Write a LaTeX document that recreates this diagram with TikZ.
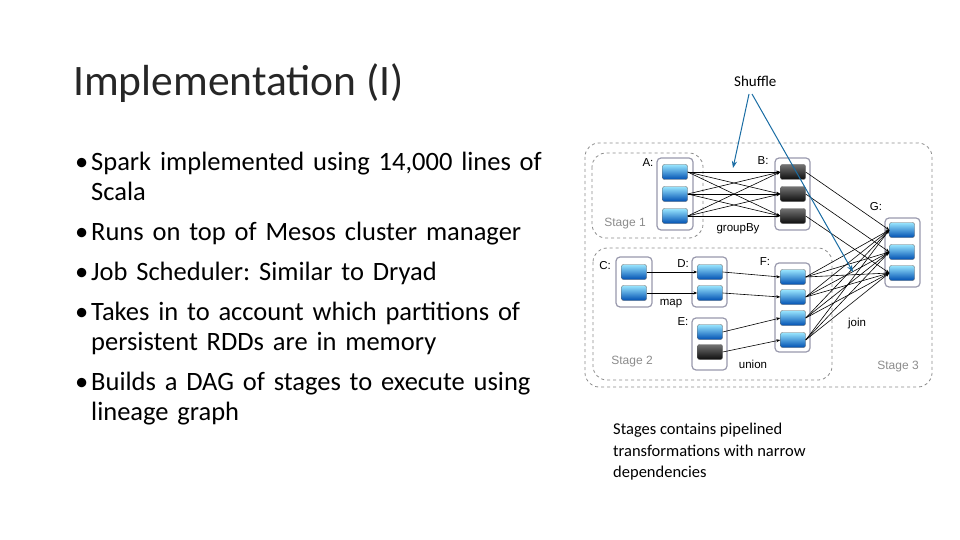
\documentclass[tikz,border=0pt]{standalone}
\usepackage{fontspec}
\setmainfont{Carlito}
\newfontfamily\arialf{Liberation Sans}
\usetikzlibrary{arrows.meta}
\begin{document}
\frenchspacing
\begin{tikzpicture}[x=1pt,y=-1pt,
  part/.style={draw=black!60,line width=0.4pt,rounded corners=2pt,minimum width=25pt,minimum height=15pt,inner sep=0pt,top color=blue!25!cyan!40,bottom color=blue!55!cyan!70!black},
  dark/.style={part,top color=black!55,bottom color=black!95},
  grp/.style={draw=blue!20!black!40,line width=1.2pt,rounded corners=4pt,fill=white},
  stage/.style={draw=black!45,dashed,line width=0.8pt,rounded corners=14pt},
  lab/.style={font=\arialf\fontsize{11.5}{14}\selectfont,inner sep=0pt},
  slab/.style={font=\arialf\fontsize{12}{14}\selectfont,text=black!45,inner sep=0pt},
  e/.style={-{Stealth[length=4pt]},line width=0.6pt},
  sh/.style={-{Stealth[length=7pt]},draw=blue!40!cyan!60!black!90,line width=1pt}]
\useasboundingbox (0,0) rectangle (960,540);
% text
\node[anchor=base west,inner sep=0pt,text=black!85,font=\fontsize{43.5}{48}\selectfont] (title) at (73,96) {Implementation (I)};
\node[anchor=north west,inner sep=0pt,text width=490pt,font=\fontsize{26.5}{30}\selectfont\frenchspacing,align=left] (bul) at (75,152) {%
\makebox[16pt][l]{•}Spark implemented using 14,000 lines of\\\hspace*{16pt}Scala\\[10pt]
\makebox[16pt][l]{•}Runs on top of Mesos cluster manager\\[10pt]
\makebox[16pt][l]{•}Job Scheduler: Similar to Dryad\\[10pt]
\makebox[16pt][l]{•}Takes in to account which partitions of\\\hspace*{16pt}persistent RDDs are in memory\\[10pt]
\makebox[16pt][l]{•}Builds a DAG of stages to execute using\\\hspace*{16pt}lineage graph};
\node[anchor=north west,inner sep=0pt,align=left,font=\fontsize{16.5}{21.5}\selectfont] (cap) at (613,423) {Stages contains pipelined\\transformations with narrow\\dependencies};
\node[anchor=base west,inner sep=0pt,font=\fontsize{15}{18}\selectfont] (shuf) at (734,87) {Shuffle};
% stages
\draw[stage] (585,143) rectangle (932,387);
\draw[stage,fill=white] (592,153) rectangle (703,238);
\draw[stage,fill=white] (593,248) rectangle (832,380);
% groups
\draw[grp] (657,158) rectangle (693,230);
\draw[grp] (775,158) rectangle (810,230);
\draw[grp] (885,218) rectangle (920,287);
\draw[grp] (616,257) rectangle (652,307);
\draw[grp] (692,257) rectangle (727,307);
\draw[grp] (692,318) rectangle (727,370);
\draw[grp] (775,263) rectangle (810,352);
\foreach \i/\y in {1/172,2/194,3/216}{
  \node[part] (A\i) at (675,\y) {};
  \node[dark] (B\i) at (793,\y) {};}
\foreach \i/\y in {1/230,2/252,3/273} \node[part] (G\i) at (902,\y) {};
\foreach \i/\y in {1/272,2/293}{
  \node[part] (C\i) at (634,\y) {};
  \node[part] (D\i) at (710,\y) {};}
\node[part] (E1) at (710,332) {};
\node[dark] (E2) at (710,352) {};
\foreach \i/\y in {1/277,2/297,3/318,4/340} \node[part] (F\i) at (793,\y) {};
% labels
\node[lab] (lA) at (648,163) {A:};
\node[lab] (lB) at (763,161) {B:};
\node[lab] (lG) at (876,207) {G:};
\node[lab] (lC) at (605,266) {C:};
\node[lab] (lD) at (683,264) {D:};
\node[lab] (lF) at (765,262) {F:};
\node[lab] (lE) at (683,322) {E:};
\node[lab] (gb) at (738,229) {groupBy};
\node[lab] (mp) at (671,304) {map};
\node[lab] (un) at (753,364) {union};
\node[lab] (jn) at (857,324) {join};
\node[slab] (s1) at (625,224) {Stage 1};
\node[slab] (s2) at (632,362) {Stage 2};
\node[slab] (s3) at (898,367) {Stage 3};
% edges
\foreach \i in {1,2,3}{\foreach \j in {1,2,3}{\draw[e] (A\i.east) -- (B\j.west);}
  \draw[e] (B\i.east) -- (G\i.west);}
\foreach \i in {1,2,3,4}{\foreach \j in {1,2,3}{\draw[e] (F\i.east) -- (G\j.west);}}
\draw[e] (C1.east) -- (D1.west);
\draw[e] (C2.east) -- (D2.west);
\draw[e] (D1.east) -- (F1.west);
\draw[e] (D2.east) -- (F2.west);
\draw[e] (E1.east) -- (F3.west);
\draw[e] (E2.east) -- (F4.west);
\coordinate (s0) at (749,94);
\coordinate (s00) at (752,94);
\coordinate (t1) at (733,168);
\coordinate (t2) at (853,272);
\draw[sh] (s0) -- (t1);
\draw[sh] (s00) -- (t2);
\end{tikzpicture}
\end{document}
